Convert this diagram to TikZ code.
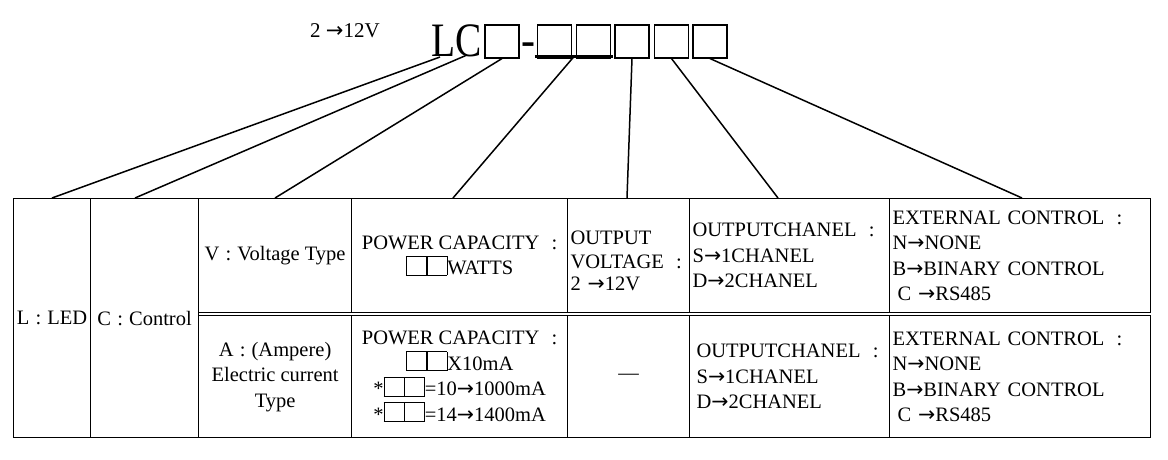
\documentclass[tikz,border=0pt]{standalone}
\usepackage{fontspec}
\setmainfont{Liberation Serif}
\newfontfamily\arrowfont{DejaVu Sans}
\newcommand\sarrow{{\arrowfont →}}
\newcommand\wcolon{\hspace{0.3em}:\hspace{0.3em}}
\newcommand\tcolon{\hspace{0.6em}:}
\setlength\fboxsep{0pt}
\setlength\fboxrule{0.6pt}
\newcommand\digitbox{\fbox{\rule{0pt}{0.9em}\hspace{0.95em}}}
\newcommand\tabsize{\fontsize{20.5}{25.5}\selectfont}
\begin{document}
\begin{tikzpicture}[x=1pt,y=-1pt,
    cell/.style={draw,line width=1.2pt,anchor=north west,inner sep=3pt,
      align=center,font=\tabsize},
    lcell/.style={cell,align=left},
    digit/.style={draw,line width=1.1pt,minimum width=34,minimum height=33,inner sep=0pt},
    link/.style={line width=1.5pt}]
  \useasboundingbox[fill=white] (0,0) rectangle (1168,460);
  % code name on top
  \node[font=\fontsize{21}{23}\selectfont] (range) at (345,31) {2 \sarrow12V};
  \node[font=\fontsize{48}{50}\selectfont,inner sep=0pt,anchor=base west] (lc) at (431,57) {\scalebox{0.82}[1]{LC}};
  \node[digit] (b1) at (502,41.5) {};
  \node[font=\fontsize{42}{44}\selectfont\bfseries,inner sep=0pt,anchor=base] (dash) at (528.5,55) {-};
  \node[digit] (b2) at (554.5,41.5) {};
  \node[digit] (b3) at (593.5,41.5) {};
  \node[digit] (b4) at (632,41.5) {};
  \node[digit] (b5) at (671.5,41.5) {};
  \node[digit] (b6) at (710,41.5) {};
  \draw[line width=2.5pt] ([shift={(-2,-2)}]b2.south west) -- coordinate (ul) ([shift={(2,-2)}]b3.south east);
  % table
  \node[cell,minimum width=77,minimum height=239] (led) at (13,198) {L\wcolon LED};
  \node[cell,minimum width=108,minimum height=239] (ctl) at (90,198) {C\wcolon Control};
  \node[cell,minimum width=153,minimum height=114] (vt) at (198,198) {V\wcolon Voltage Type};
  \node[cell,minimum width=216,minimum height=114] (pw1) at (351,198)
    {POWER CAPACITY\tcolon\\\digitbox\digitbox WATTS};
  \node[lcell,minimum width=122,minimum height=114,text width=116] (ov) at (567,198)
    {\\[-1pt]OUTPUT\\[-2pt]VOLTAGE\tcolon\\[-3pt]2 \sarrow12V};
  \node[lcell,minimum width=200,minimum height=114,text width=194] (och1) at (689,198)
    {OUTPUTCHANEL\tcolon\\S\sarrow1CHANEL\\D\sarrow2CHANEL};
  \node[lcell,minimum width=261,minimum height=114,text width=255] (ext1) at (889,198)
    {EXTERNAL CONTROL\tcolon\\N\sarrow NONE\\B\sarrow BINARY CONTROL\\\hspace{0.25em}C \sarrow RS485};
  \node[cell,minimum width=153,minimum height=122] (at) at (198,315)
    {A\wcolon(Ampere)\\Electric current\\Type};
  \node[cell,minimum width=216,minimum height=122] (pw2) at (351,315)
    {POWER CAPACITY\tcolon\\\digitbox\digitbox X10mA\\*\digitbox\digitbox=10\sarrow1000mA\\*\digitbox\digitbox=14\sarrow1400mA};
  \node[cell,minimum width=122,minimum height=122] (none) at (567,315) {—};
  \node[lcell,minimum width=200,minimum height=122,text width=186,inner xsep=7pt] (och2) at (689,315)
    {OUTPUTCHANEL\tcolon\\S\sarrow1CHANEL\\D\sarrow2CHANEL};
  \node[lcell,minimum width=261,minimum height=122,text width=255] (ext2) at (889,315)
    {EXTERNAL CONTROL\tcolon\\N\sarrow NONE\\B\sarrow BINARY CONTROL\\\hspace{0.25em}C \sarrow RS485};
  % ends of the links on the table top
  \coordinate (t1) at (52,198);
  \coordinate (t2) at (135,198);
  \coordinate (t3) at (275,198);
  \coordinate (t4) at (453,198);
  \coordinate (t5) at (627,198);
  \coordinate (t6) at (778,198);
  \coordinate (t7) at (1022,198);
  \begin{scope}[link]
    \draw ([xshift=9]lc.base west) -- (t1);
    \draw ([xshift=36,yshift=2]lc.base west) -- (t2);
    \draw (b1.south) -- (t3);
    \draw (ul) -- (t4);
    \draw (b4.south) -- (t5);
    \draw (b5.south) -- (t6);
    \draw (b6.south) -- (t7);
  \end{scope}
\end{tikzpicture}
\end{document}
